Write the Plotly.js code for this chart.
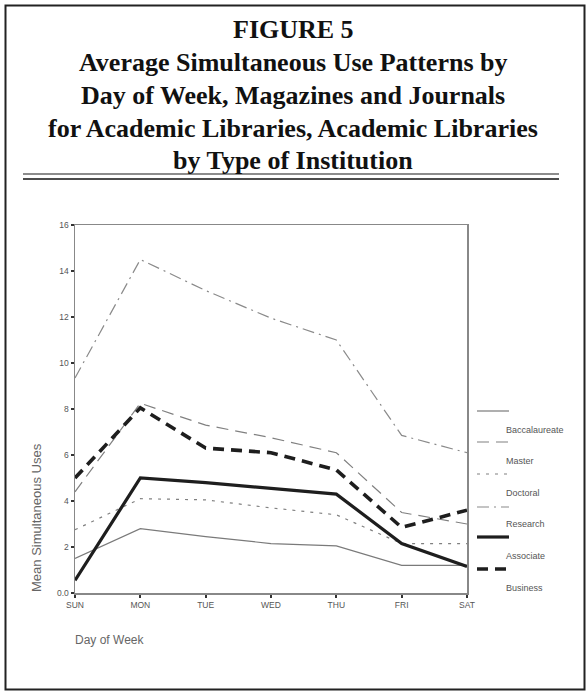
<!DOCTYPE html>
<html>
<head>
<meta charset="utf-8">
<script src="https://cdn.plot.ly/plotly-3.0.1.min.js"></script>
<style>
  html, body { margin: 0; padding: 0; background: #fff; }
  #chart { width: 586px; height: 694px; }
</style>
</head>
<body>
<div id="chart"></div>
<script>
// ---- Data ----
const days = ["SUN", "MON", "TUE", "WED", "THU", "FRI", "SAT"];
const yTickVals = [0, 2, 4, 6, 8, 10, 12, 14, 16];
const yTickText = ["0.0", "2", "4", "6", "8", "10", "12", "14", "16"];
const seriesNames = ["Baccalaureate", "Master", "Doctoral", "Research", "Associate", "Business"];
const baccalaureate = [1.5, 2.8, 2.45, 2.15, 2.05, 1.2, 1.2];
const master        = [4.4, 8.25, 7.3, 6.75, 6.1, 3.5, 3.0];
const doctoral      = [2.75, 4.1, 4.05, 3.7, 3.4, 2.15, 2.15];
const research      = [9.35, 14.5, 13.15, 11.95, 11.0, 6.85, 6.1];
const associate     = [0.55, 5.0, 4.8, 4.55, 4.3, 2.15, 1.15];
const business      = [5.0, 8.05, 6.3, 6.1, 5.35, 2.85, 3.6];

const allValues = [baccalaureate, master, doctoral, research, associate, business];
const styles = [
  {color: "#7a7a7a", width: 1.2, dash: "solid"},
  {color: "#808080", width: 1.2, dash: "12px,7px"},
  {color: "#808080", width: 1.2, dash: "3px,6px"},
  {color: "#8a8a8a", width: 1.2, dash: "12px,5px,2px,5px"},
  {color: "#1e1e1e", width: 3.2, dash: "solid"},
  {color: "#1e1e1e", width: 3.6, dash: "11px,7px"}
];

const xIdx = days.map((d, i) => i);

const traces = allValues.map((vals, k) => ({
  type: "scatter",
  mode: "lines",
  name: seriesNames[k],
  x: xIdx,
  y: vals,
  line: styles[k],
  showlegend: false,
  hoverinfo: "x+y+name"
}));

// ---- Layout geometry (pixels) ----
const W = 586, H = 694;
const L = 75, R = 467, T = 225, B = 593;
const px = x => (x - L) / (R - L);
const py = y => (B - y) / (B - T);

const shapes = [];
const annotations = [];

// outer frame
shapes.push({type: "rect", xref: "paper", yref: "paper",
  x0: px(5.5), x1: px(584.5), y0: py(5.5), y1: py(689.5),
  line: {color: "#222", width: 2}, layer: "below"});
// double rule under title
shapes.push({type: "line", xref: "paper", yref: "paper",
  x0: px(23), x1: px(559), y0: py(174), y1: py(174),
  line: {color: "#8c8c8c", width: 2.2}});
shapes.push({type: "line", xref: "paper", yref: "paper",
  x0: px(23), x1: px(559), y0: py(179), y1: py(179),
  line: {color: "#111", width: 1.5}});

// title lines
const titleLines = [
  "FIGURE 5",
  "Average Simultaneous Use Patterns by",
  "Day of Week, Magazines and Journals",
  "for Academic Libraries, Academic Libraries",
  "by Type of Institution"
];
const titleY = [30, 63, 96, 128, 161];
titleLines.forEach((t, i) => {
  annotations.push({text: "<b>" + t + "</b>", xref: "paper", yref: "paper",
    x: px(293), y: py(titleY[i]), xanchor: "center", yanchor: "middle",
    showarrow: false,
    font: {family: "Liberation Serif, Times New Roman, serif", size: 26, color: "#111"}});
});

// legend (manual, label below its line sample)
const legLineY = [411, 442, 474, 507, 537, 569];
const legLabelY = [430, 461, 493, 524, 556, 588];
seriesNames.forEach((n, k) => {
  const st = styles[k];
  shapes.push({type: "line", xref: "paper", yref: "paper",
    x0: px(477), x1: px(509), y0: py(legLineY[k]), y1: py(legLineY[k]),
    line: {color: st.color, width: st.width, dash: st.dash}});
  annotations.push({text: n, xref: "paper", yref: "paper",
    x: px(504), y: py(legLabelY[k]), xanchor: "left", yanchor: "middle",
    showarrow: false,
    font: {family: "Liberation Sans, Arial, sans-serif", size: 9, color: "#555"}});
});

// axis titles
annotations.push({text: "Mean Simultaneous Uses", xref: "paper", yref: "paper",
  x: px(36), y: py(518), xanchor: "center", yanchor: "middle", textangle: -90,
  showarrow: false,
  font: {family: "Liberation Sans, Arial, sans-serif", size: 13, color: "#666"}});
annotations.push({text: "Day of Week", xref: "paper", yref: "paper",
  x: px(73), y: py(640), xanchor: "left", yanchor: "middle",
  showarrow: false,
  font: {family: "Liberation Sans, Arial, sans-serif", size: 12, color: "#666"}});

const layout = {
  width: W, height: H,
  margin: {l: L, r: W - R, t: T, b: H - B, pad: 0},
  paper_bgcolor: "#fff",
  plot_bgcolor: "#fff",
  showlegend: false,
  xaxis: {
    range: [0, 6],
    tickvals: xIdx,
    ticktext: days,
    showgrid: false, zeroline: false,
    showline: true, linecolor: "#888", linewidth: 1.5, mirror: true,
    ticks: "outside", ticklen: 3, tickwidth: 2, tickcolor: "#333",
    tickfont: {family: "Liberation Sans, Arial, sans-serif", size: 8.5, color: "#555"}
  },
  yaxis: {
    range: [0, 16],
    tickvals: yTickVals,
    ticktext: yTickText,
    showgrid: false, zeroline: false,
    showline: true, linecolor: "#888", linewidth: 1.5, mirror: true,
    ticks: "outside", ticklen: 3, tickwidth: 2, tickcolor: "#333",
    tickfont: {family: "Liberation Sans, Arial, sans-serif", size: 8.5, color: "#555"}
  },
  shapes: shapes,
  annotations: annotations
};

Plotly.newPlot("chart", traces, layout, {displayModeBar: false, staticPlot: true});
</script>
</body>
</html>
